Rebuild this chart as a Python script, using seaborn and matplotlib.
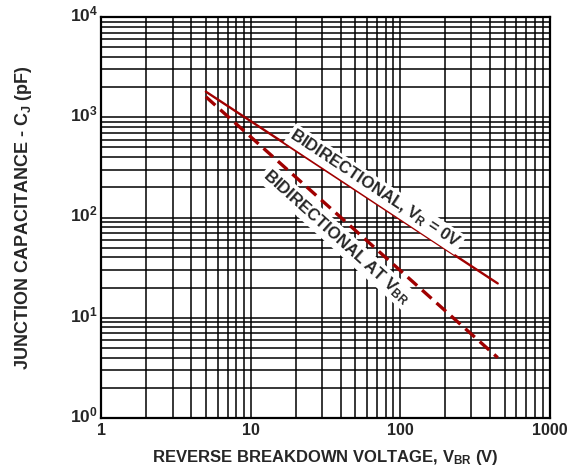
import numpy as np
import pandas as pd
import matplotlib
matplotlib.use("Agg")
import matplotlib.pyplot as plt
import matplotlib.transforms as mtransforms
import seaborn as sns

# data
v_br = [5, 450]
cap_vr0 = [1800, 22]
cap_at_vbr = [1600, 4]

x_ticks = [1, 10, 100, 1000]
x_ticklabels = ["1", "10", "100", "1000"]
y_ticks = [1, 10, 100, 1000, 10000]
y_ticklabels = [r"10$^{%d}$" % i for i in range(5)]

sns.set_style("white")
plt.rcParams["font.family"] = ["Liberation Sans", "DejaVu Sans"]
plt.rcParams["font.weight"] = "bold"
plt.rcParams["mathtext.fontset"] = "custom"
plt.rcParams["mathtext.rm"] = "Liberation Sans:bold"
plt.rcParams["mathtext.it"] = "Liberation Sans:bold"
plt.rcParams["mathtext.bf"] = "Liberation Sans:bold"
plt.rcParams["mathtext.default"] = "regular"

df_vr0 = pd.DataFrame({"vbr": v_br, "cap": cap_vr0})
df_atvbr = pd.DataFrame({"vbr": v_br, "cap": cap_at_vbr})

fig = plt.figure(figsize=(5.75, 4.7), dpi=100)
ax = fig.add_axes([0.1765, 0.1106, 0.7792, 0.8532])

red = "#A00000"
sns.lineplot(data=df_vr0, x="vbr", y="cap", color=red, linewidth=1.7,
             ax=ax, zorder=3)
sns.lineplot(data=df_atvbr, x="vbr", y="cap", color=red, linewidth=2.4,
             ax=ax, zorder=3)
ax.lines[-1].set_dashes((3.8, 2.0))

ax.set_xscale("log")
ax.set_yscale("log")
ax.set_xlim(1, 1000)
ax.set_ylim(1, 10000)

ax.set_xticks(x_ticks)
ax.set_xticklabels(x_ticklabels)
ax.set_yticks(y_ticks)
ax.set_yticklabels(y_ticklabels)
ax.tick_params(axis="both", which="both", length=0)
ax.tick_params(axis="x", labelsize=11.5, pad=3.5)
ax.tick_params(axis="y", labelsize=12.5, pad=2.5)
shift_up = mtransforms.ScaledTranslation(0, 3 / 72, fig.dpi_scale_trans)
for lab in ax.get_yticklabels():
    lab.set_transform(lab.get_transform() + shift_up)
for lab in ax.get_xticklabels() + ax.get_yticklabels():
    lab.set_fontweight("bold")

ax.grid(True, which="both", color="black", linewidth=1.1)
for s in ax.spines.values():
    s.set_color("black")
    s.set_linewidth(1.6)

ax.set_xlabel(r"REVERSE BREAKDOWN VOLTAGE, V$_{BR}$ (V)", fontsize=12,
              fontweight="bold", labelpad=7)
ax.set_ylabel(r"JUNCTION CAPACITANCE - C$_{J}$ (pF)", fontsize=13,
              fontweight="bold", labelpad=26)

box = dict(facecolor="white", edgecolor="none", pad=1.5)
ax.text(68, 192, r"BIDIRECTIONAL, V$_{R}$ = 0V", rotation=-33.5,
        ha="center", va="center", fontsize=12, fontweight="bold",
        bbox=box, zorder=4, rotation_mode="anchor")
ax.text(37.6, 64.4, r"BIDIRECTIONAL AT V$_{BR}$", rotation=-42,
        ha="center", va="center", fontsize=12, fontweight="bold",
        bbox=box, zorder=4, rotation_mode="anchor")

fig.savefig("out.png", dpi=100)
